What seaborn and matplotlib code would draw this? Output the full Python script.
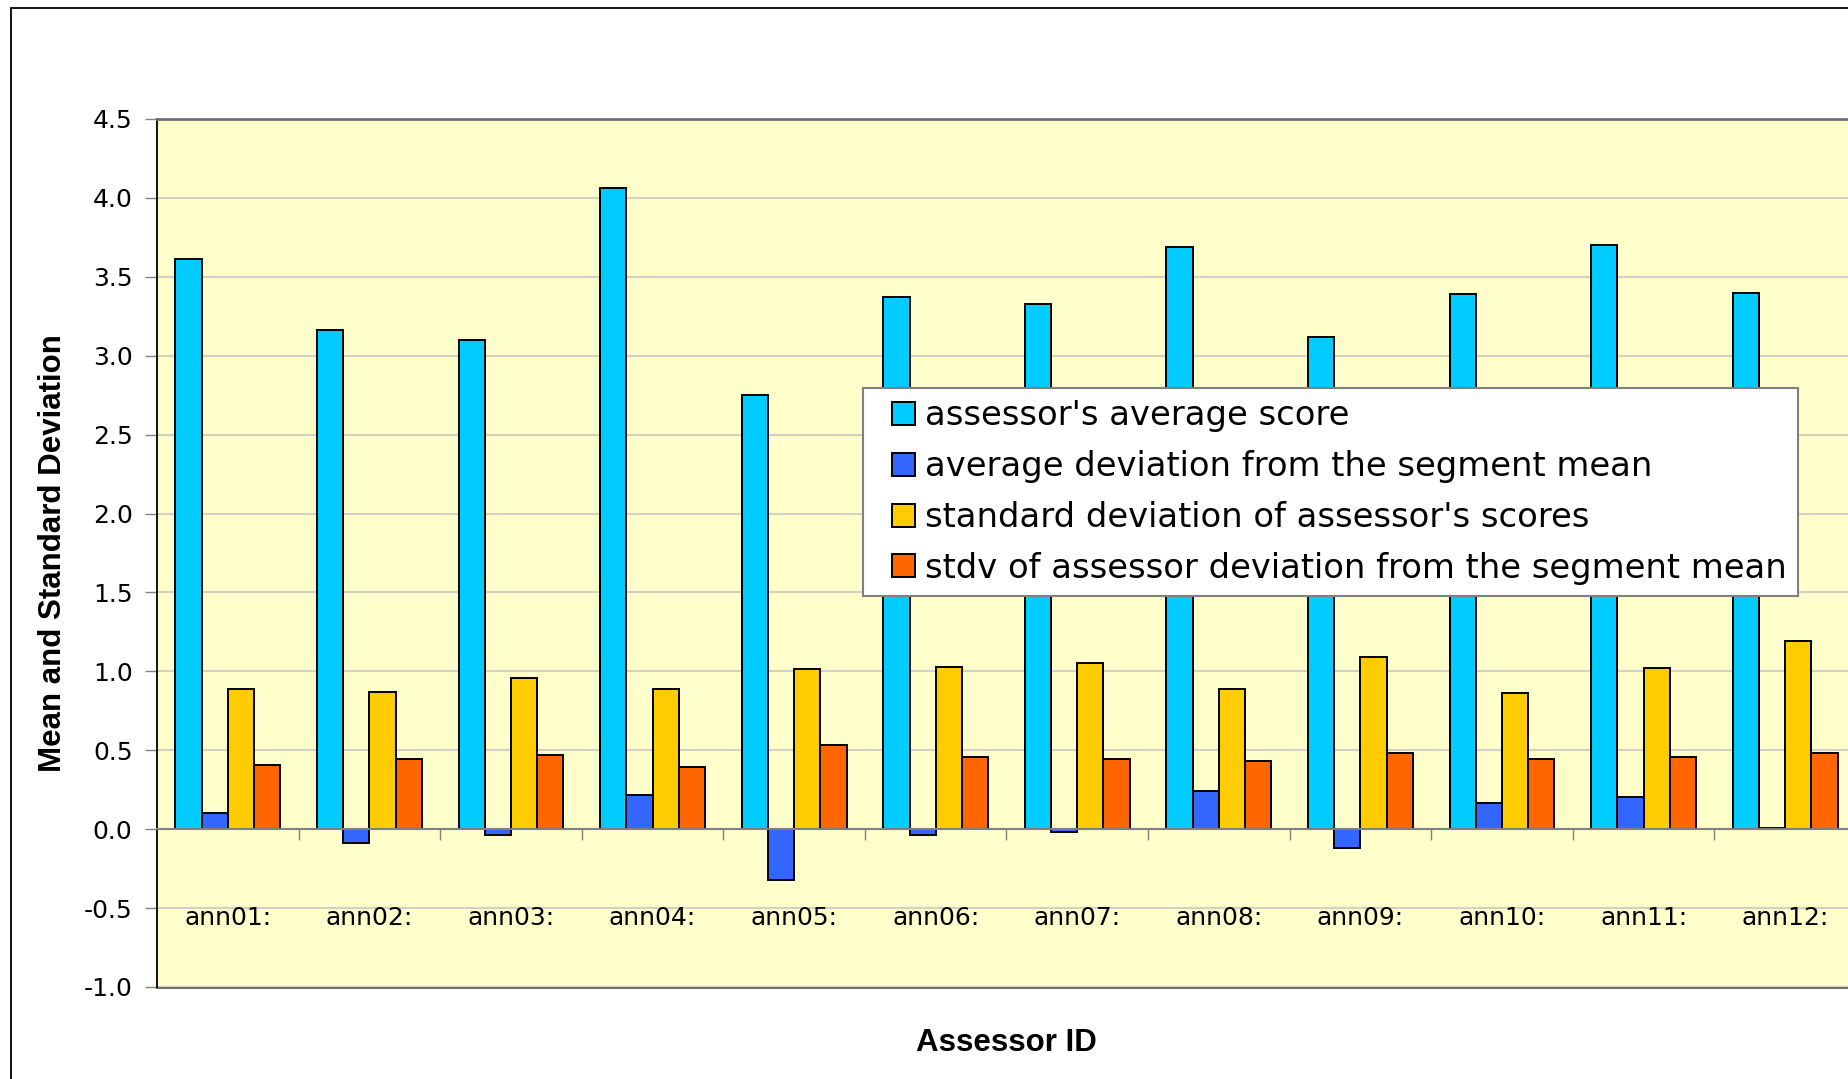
import numpy as np
import pandas as pd
import matplotlib
matplotlib.use("Agg")
import matplotlib.pyplot as plt
import seaborn as sns
from matplotlib.patches import Rectangle, Patch
from matplotlib.legend_handler import HandlerPatch
from matplotlib.ticker import MultipleLocator, FixedLocator, FormatStrFormatter

# Assessors and the four per-assessor statistics
assessors = ["ann01:", "ann02:", "ann03:", "ann04:", "ann05:", "ann06:",
             "ann07:", "ann08:", "ann09:", "ann10:", "ann11:", "ann12:"]
measures = ["assessor's average score",
            "average deviation from the segment mean",
            "standard deviation of assessor's scores",
            "stdv of assessor deviation from the segment mean"]
avg_score = [3.61, 3.16, 3.10, 4.06, 2.75, 3.37, 3.33, 3.69, 3.12, 3.39, 3.70, 3.40]
avg_dev = [0.10, -0.085, -0.035, 0.215, -0.32, -0.035, -0.015, 0.24, -0.12, 0.165, 0.205, 0.01]
std_score = [0.89, 0.87, 0.96, 0.89, 1.015, 1.025, 1.05, 0.89, 1.09, 0.865, 1.02, 1.195]
std_dev = [0.405, 0.445, 0.47, 0.395, 0.535, 0.455, 0.445, 0.43, 0.485, 0.445, 0.455, 0.485]
colors = ["#00CCFF", "#3366FF", "#FFCC00", "#FF6600"]

series = [avg_score, avg_dev, std_score, std_dev]
df = pd.DataFrame({
    "assessor": assessors * len(measures),
    "measure": [m for m in measures for _ in assessors],
    "value": [v for s in series for v in s],
})

sns.set_theme(style="white")
plt.rcParams["font.family"] = ["DejaVu Sans"]
plt.rcParams["axes.unicode_minus"] = False
plt.rcParams["text.color"] = "black"
plt.rcParams["axes.labelcolor"] = "black"

W, H = 1849, 1079
fig = plt.figure(figsize=(W / 100, H / 100), dpi=100)
fig.patch.set_facecolor("white")
ax = fig.add_axes([157 / W, 1 - 987 / H, 1699 / W, 868 / H])
ax.set_facecolor("#FFFFCC")

sns.barplot(data=df, x="assessor", y="value", hue="measure",
            order=assessors, hue_order=measures, palette=colors,
            width=0.74, saturation=1, edgecolor="black", linewidth=1.4,
            ax=ax)

ax.set_xlim(-0.5, len(assessors) - 0.5)
ax.set_ylim(-1.0, 4.5)
ax.yaxis.set_major_locator(MultipleLocator(0.5))
ax.yaxis.set_major_formatter(FormatStrFormatter("%.1f"))
ax.yaxis.grid(True, color="#d2d2c4", linewidth=1.5)
ax.xaxis.grid(False)
ax.set_axisbelow(True)
# category labels sit on top of the horizontal gridlines
ax.xaxis.set_zorder(0.7)

# Category axis crosses at zero; boundary ticks between groups
ax.spines["bottom"].set_position(("data", 0))
ax.spines["bottom"].set_color("#808080")
ax.spines["bottom"].set_linewidth(1.5)
ax.spines["left"].set_color("black")
ax.spines["left"].set_linewidth(1.3)
ax.spines["top"].set_color("#707070")
ax.spines["top"].set_linewidth(2)
ax.spines["right"].set_visible(False)

ax.set_xticks(range(len(assessors)))
ax.set_xticklabels(assessors)
ax.xaxis.set_minor_locator(FixedLocator(np.arange(0.5, len(assessors) - 0.5, 1)))
ax.tick_params(axis="x", which="major", length=0, pad=55, labelsize=18,
               bottom=True, labelcolor="black")
ax.tick_params(axis="x", which="minor", length=8, width=1, color="#808080",
               direction="out", bottom=True)
ax.tick_params(axis="y", which="major", length=9, width=1, color="#808080",
               direction="out", left=True, pad=8.6, labelsize=18,
               labelcolor="black")

# Plot-area bottom edge
frame_axis = ax.secondary_xaxis("bottom")
frame_axis.set_xticks([])
frame_axis.spines["bottom"].set_color("#707070")
frame_axis.spines["bottom"].set_linewidth(2.2)

ax.set_ylabel("Mean and Standard Deviation", fontsize=22.5, fontweight="bold",
              family=["Liberation Sans"], va="center", color="black")
ax.yaxis.set_label_coords(-0.061, 0.5)
ax.set_xlabel("Assessor ID", fontsize=22.5, fontweight="bold",
              family=["Liberation Sans"], va="center", color="black")
ax.xaxis.set_label_coords(0.5, -0.065)


class SquareHandler(HandlerPatch):
    """Draws a square swatch at the right end of the handle box."""

    def create_artists(self, legend, orig_handle, xdescent, ydescent,
                       width, height, fontsize, trans):
        side = 0.68 * fontsize
        p = Rectangle((width - xdescent - side, -ydescent + (height - side) / 2),
                      side, side)
        self.update_prop(p, orig_handle, legend)
        p.set_transform(trans)
        return [p]


handles, labels = ax.get_legend_handles_labels()
leg = ax.legend(handles, labels, loc="upper left",
                bbox_to_anchor=(863 / W, 1 - 388 / H),
                bbox_transform=fig.transFigure, borderaxespad=0,
                fontsize=24.3, frameon=True, fancybox=False, framealpha=1,
                edgecolor="#808080", facecolor="white", borderpad=0.33,
                labelspacing=0.53, handlelength=1.22, handleheight=0.68,
                handletextpad=0.3, handler_map={Patch: SquareHandler()})
leg.get_frame().set_linewidth(1.5)
for txt in leg.get_texts():
    txt.set_color("black")

# Outer chart border
fig.add_artist(Rectangle((11 / W, -0.1), 1.2, 1.1 - 8 / H,
                         transform=fig.transFigure, fill=False,
                         edgecolor="black", linewidth=1.3))

fig.savefig("out.png", dpi=100)
